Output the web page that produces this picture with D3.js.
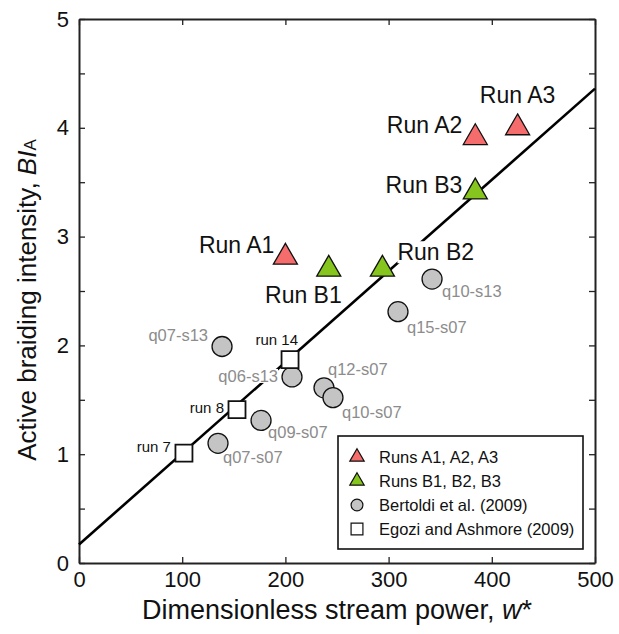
<!DOCTYPE html>
<meta charset="utf-8">
<script src="https://d3js.org/d3.v7.min.js"></script>
<style>
  body { margin: 0; background: #fff; }
  text { font-family: "Liberation Sans", Arial, sans-serif; }
</style>
<div id="my_dataviz"></div>
<script>

  // data
  var runANames = ["Run A1", "Run A2", "Run A3"],
    runAW = [200, 384, 425],
    runABI = [2.81, 3.91, 4.00];

  var runBNames = ["Run B1", "Run B2", "Run B3"],
    runBW = [242, 294, 384],
    runBBI = [2.70, 2.70, 3.41];

  var bertoldiNames = ["q07-s13", "q06-s13", "q12-s07", "q10-s07", "q09-s07", "q07-s07", "q15-s07", "q10-s13"],
    bertoldiW = [138.6, 206.4, 237.4, 246.1, 176.4, 134.7, 309.1, 342.1],
    bertoldiBI = [1.99, 1.71, 1.61, 1.52, 1.31, 1.10, 2.31, 2.61];

  var egoziNames = ["run 7", "run 8", "run 14"],
    egoziW = [101.7, 153.1, 204.5],
    egoziBI = [1.01, 1.41, 1.87];

  // regression line end points
  var fitW = [0, 500],
    fitBI = [0.17, 4.36];

  var xTicks = [0, 100, 200, 300, 400, 500],
    yTicks = [0, 1, 2, 3, 4, 5];

  var legendLabels = ["Runs A1, A2, A3", "Runs B1, B2, B3", "Bertoldi et al. (2009)", "Egozi and Ashmore (2009)"];

  // label placement (offset from the marker, px)
  var labelPos = {
    "Run A1": [-11, -4, "end"], "Run A2": [-13, -5, "end"], "Run A3": [0, -25, "middle"],
    "Run B1": [13, 34, "end"], "Run B2": [15, -9, "start"], "Run B3": [-13, 1, "end"],
    "q07-s13": [-14, -5, "end"], "q06-s13": [-14, 5, "end"], "q12-s07": [4, -13, "start"],
    "q10-s07": [9, 20, "start"], "q09-s07": [7, 18, "start"], "q07-s07": [5, 20, "start"],
    "q15-s07": [9, 21, "start"], "q10-s13": [10, 18, "start"],
    "run 7": [-13, -1, "end"], "run 8": [-13, 3, "end"], "run 14": [8, -15, "end"]
  };

  var margin = { top: 19, right: 24, bottom: 71, left: 79 },
    width = 619 - margin.left - margin.right,
    height = 634 - margin.top - margin.bottom;

  var svg = d3.select("#my_dataviz")
    .append("svg")
    .attr("width", 619)
    .attr("height", 634)
    .append("g")
    .attr("transform", "translate(" + margin.left + "," + margin.top + ")");

  var x = d3.scaleLinear().domain([0, 500]).range([0, width]),
    y = d3.scaleLinear().domain([0, 5]).range([height, 0]);

  var axisColor = "#222";

  // axes with inward ticks on all four sides
  var minorY = d3.range(0, 5.01, 0.5);
  svg.append("g")
    .attr("transform", "translate(0," + height + ")")
    .call(d3.axisBottom(x).tickValues(xTicks).tickSizeInner(-6).tickSizeOuter(0).tickPadding(8).tickFormat(d3.format("d")));
  svg.append("g")
    .call(d3.axisLeft(y).tickValues(minorY).tickSizeInner(-6).tickSizeOuter(0).tickPadding(10)
      .tickFormat(function (d) { return yTicks.indexOf(d) >= 0 ? d : ""; }));
  svg.append("g")
    .call(d3.axisTop(x).tickValues(xTicks).tickSizeInner(-6).tickSizeOuter(0).tickFormat(""));
  svg.append("g")
    .attr("transform", "translate(" + width + ",0)")
    .call(d3.axisRight(y).tickValues(minorY).tickSizeInner(-6).tickSizeOuter(0).tickFormat(""));

  svg.selectAll(".domain").attr("stroke", axisColor).attr("stroke-width", 2);
  svg.selectAll(".tick line").attr("stroke", axisColor).attr("stroke-width", 1.3);
  svg.selectAll(".tick text").attr("font-size", 22).attr("font-family", "Liberation Sans, Arial, sans-serif").attr("fill", "#111");

  // regression line
  svg.append("path")
    .datum(d3.zip(fitW, fitBI))
    .attr("fill", "none")
    .attr("stroke", "#000")
    .attr("stroke-width", 2.6)
    .attr("d", d3.line().x(function (d) { return x(d[0]); }).y(function (d) { return y(d[1]); }));

  // labels with a white backing so the line breaks behind them
  function addLabels(names, ws, bis, size, color) {
    var g = svg.append("g");
    names.forEach(function (n, i) {
      var p = labelPos[n];
      var t = g.append("text")
        .attr("x", x(ws[i]) + p[0])
        .attr("y", y(bis[i]) + p[1])
        .attr("text-anchor", p[2])
        .attr("font-size", size)
        .attr("fill", color)
        .text(n);
      var b = t.node().getBBox();
      g.insert("rect", "text")
        .attr("x", b.x).attr("y", b.y + 2)
        .attr("width", b.width).attr("height", b.height - 4)
        .attr("fill", "#fff");
    });
  }

  addLabels(runANames, runAW, runABI, 23, "#111");
  addLabels(runBNames, runBW, runBBI, 23, "#111");
  addLabels(bertoldiNames, bertoldiW, bertoldiBI, 16.5, "#8c8c8c");
  addLabels(egoziNames, egoziW, egoziBI, 15, "#111");

  // markers
  function addMarkers(ws, bis, type, size, fill, sw) {
    svg.append("g").selectAll("path")
      .data(d3.zip(ws, bis))
      .enter().append("path")
      .attr("transform", function (d) { return "translate(" + x(d[0]) + "," + y(d[1]) + ")"; })
      .attr("d", d3.symbol().type(type).size(size))
      .attr("fill", fill)
      .attr("stroke", "#111")
      .attr("stroke-width", sw);
  }

  addMarkers(bertoldiW, bertoldiBI, d3.symbolCircle, 314, "#c4c4c4", 1.3);
  addMarkers(egoziW, egoziBI, d3.symbolSquare, 289, "#fff", 1.8);
  addMarkers(runAW, runABI, d3.symbolTriangle, 250, "#f46c6c", 1.3);
  addMarkers(runBW, runBBI, d3.symbolTriangle, 250, "#86c51e", 1.3);

  // legend
  var legend = svg.append("g").attr("transform", "translate(" + (338 - margin.left) + "," + (436 - margin.top) + ")");
  legend.append("rect")
    .attr("width", 245).attr("height", 113)
    .attr("fill", "#fff").attr("stroke", "#111").attr("stroke-width", 1.6);
  var legendSym = [
    [d3.symbolTriangle, 90, "#f46c6c"],
    [d3.symbolTriangle, 90, "#86c51e"],
    [d3.symbolCircle, 110, "#c4c4c4"],
    [d3.symbolSquare, 140, "#fff"]
  ];
  legendLabels.forEach(function (l, i) {
    var row = legend.append("g").attr("transform", "translate(19," + (21 + i * 24) + ")");
    row.append("path")
      .attr("d", d3.symbol().type(legendSym[i][0]).size(legendSym[i][1]))
      .attr("fill", legendSym[i][2]).attr("stroke", "#111").attr("stroke-width", 1.2);
    row.append("text")
      .attr("x", 22).attr("y", 6)
      .attr("font-size", 16.5).attr("fill", "#111")
      .text(l);
  });

  // axis titles
  var xt = svg.append("text")
    .attr("x", width / 2).attr("y", height + 56)
    .attr("text-anchor", "middle").attr("font-size", 27).attr("fill", "#111");
  xt.append("tspan").text("Dimensionless stream power, ");
  xt.append("tspan").attr("font-style", "italic").text("w");
  xt.append("tspan").text("*");

  var yt = svg.append("text")
    .attr("transform", "translate(" + (27 - margin.left + 9) + "," + (300 - margin.top) + ") rotate(-90)")
    .attr("text-anchor", "middle").attr("font-size", 26).attr("fill", "#111");
  yt.append("tspan").text("Active braiding intensity, ");
  yt.append("tspan").attr("font-style", "italic").text("BI");
  yt.append("tspan").attr("font-size", 17).text("A");

</script>
